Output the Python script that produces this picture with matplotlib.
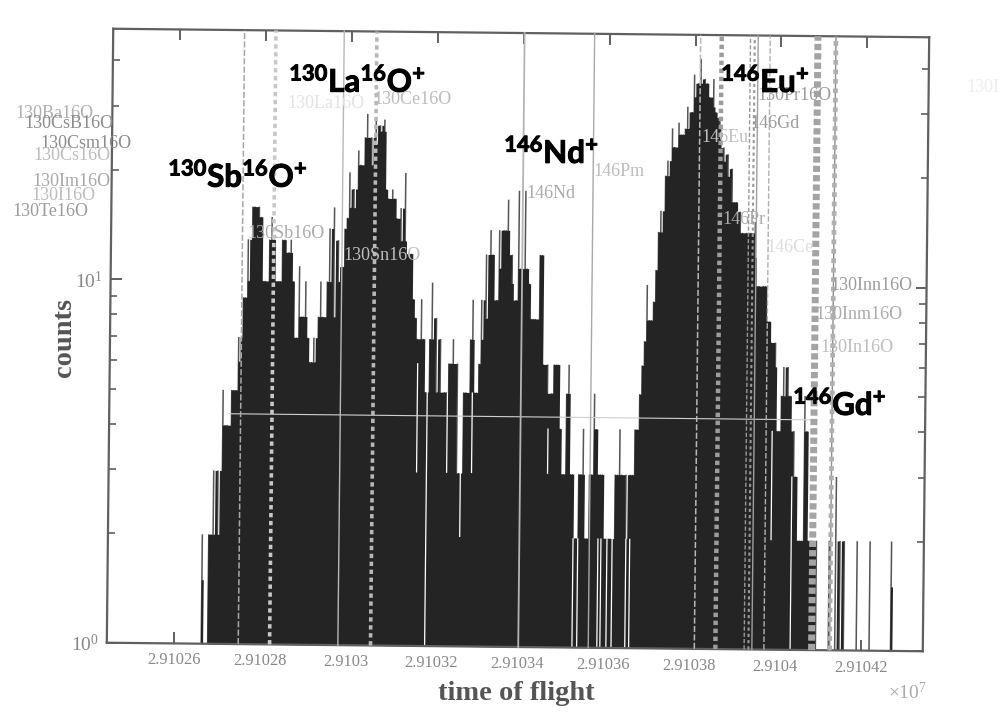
import numpy as np
import matplotlib
matplotlib.use("Agg")
import matplotlib.pyplot as plt
import matplotlib.patheffects as pe
from matplotlib.axes import Axes
from matplotlib.transforms import Affine2D

plt.rcParams["font.family"] = ["Liberation Serif"]
plt.rcParams["mathtext.fontset"] = "custom"
plt.rcParams["mathtext.rm"] = "Liberation Serif"
plt.rcParams["mathtext.bf"] = "Lato:bold"
plt.rcParams["mathtext.default"] = "rm"

# ---- data ----
first_bin = 2.9102662
bin_width = 5e-7
counts = [
    2,1,1,2,2,3,2,3,2,5,4,4,3,5,5,5,7,6,9,9,
    13,10,16,16,10,16,15,10,10,9,13,15,13,10,10,10,13,13,9,12,
    13,10,7,7,11,8,8,10,7,6,6,7,6,8,10,8,6,10,14,8,
    16,7,13,10,11,14,15,20,16,18,15,23,21,19,25,29,20,25,21,28,
    24,27,26,28,18,17,14,18,17,15,13,16,13,20,11,12,12,9,8,7,
    3,9,7,5,5,7,10,4,8,5,7,4,5,5,6,6,7,3,6,3,
    2,5,5,4,7,9,5,5,6,9,7,12,8,14,12,7,9,14,11,14,
    14,17,10,12,8,9,18,11,8,18,11,10,8,8,8,7,12,12,6,5,
    6,4,5,6,6,6,4,3,3,5,6,3,3,2,2,3,3,4,2,2,
    3,3,5,4,3,3,3,2,2,2,2,1,3,3,4,3,2,3,2,3,
    3,4,4,5,6,7,10,8,8,9,11,14,16,13,20,22,18,27,24,22,
    28,26,26,27,31,27,30,38,33,36,42,35,37,36,33,31,37,30,27,29,
    22,24,20,23,16,21,17,17,12,16,14,10,14,14,14,12,15,10,10,8,
    10,10,8,8,7,6,7,4,4,5,6,4,6,5,3,4,3,2,2,2,
    5,4,2,2,2,1,2,1,1,1,1,1,2,1,1,3,1,2,1,2,
    1,1,1,1,1,2,1,1,1,1,1,2,1,1,1,1,1,1,1,1,1,2,
]
dip_times = [2.9103161, 2.9103184, 2.9103231, 2.9103263, 2.9103289, 2.9103466,
             2.9103527, 2.9103538, 2.9103585, 2.9103592, 2.9103606, 2.9103618,
             2.9103650, 2.9103659, 2.9103988, 2.9104035]
dip_low = [3, 1, 3, 2, 3, 3, 1, 1, 1, 1, 1, 1, 1, 1, 2, 1]
dip_high = [6, 5, 5, 4, 5, 4, 2, 2, 2, 2, 2, 2, 2, 2, 4, 3]

isotope_times = [2.9102750, 2.9102823, 2.9102982, 2.9103058, 2.9103402, 2.9103565, 2.9103812,
                 2.9103861, 2.9103928, 2.9103938, 2.9103946, 2.9103974, 2.9104085, 2.9104127, 2.9104127]
isotope_styles = [(0, (4, 1.5)), (0, (1.2, 1)), "-", (0, (1.2, 1)), "-", "-", (0, (4, 1.5)),
                  (0, (1, 0.8)), (0, (3, 1.5)), (0, (1.5, 1.5)), "-", (0, (4, 1.5)),
                  (0, (0.9, 0.45)), "-", (0, (1, 1))]
isotope_widths = [1.1, 2.6, 1.0, 2.6, 1.3, 1.0, 1.1, 3.2, 1.0, 1.5, 1.0, 1.0, 5.0, 1.0, 3.4]
isotope_colors = ["#a8a8a8", "#c8c8c8", "#b8b8b8", "#b8b8b8", "#b4b4b4", "#a8a8a8", "#b8b8b8",
                  "#9c9c9c", "#999999", "#999999", "#a0a0a0", "#b0b0b0", "#a4a4a4", "#8c8c8c", "#b0b0b0"]
baseline_count = 4.3
baseline_range = (2.9102722, 2.9104079)

x_ticks = [2.91026, 2.91028, 2.91030, 2.91032, 2.91034, 2.91036, 2.91038, 2.91040, 2.91042]
x_tick_labels = ["2.91026", "2.91028", "2.9103", "2.91032", "2.91034", "2.91036", "2.91038", "2.9104", "2.91042"]
y_ticks = [1, 10]
y_tick_labels = [r"$10^{0}$", r"$10^{1}$"]
y_minor = [2, 3, 4, 5, 6, 7, 8, 9, 20, 30, 40]

faint_labels = [
    ("130Ba16O", 15, 113, "#b0b0b0"), ("130CsB16O", 24, 123, "#8c8c8c"), ("130Csm16O", 40, 144, "#8c8c8c"),
    ("130Cs16O", 33, 155, "#bdbdbd"), ("130Im16O", 32, 181, "#a8a8a8"), ("130I16O", 31, 196, "#bdbdbd"),
    ("130Te16O", 12, 212, "#9c9c9c"), ("130Sb16O", 247, 233, "#ababab"), ("130Sn16O", 343, 256, "#bdbdbd"),
    ("130La16O", 287, 103, "#e4e4e4"), ("130Ce16O", 373, 99, "#bdbdbd"), ("146Nd", 526, 193, "#ababab"),
    ("146Pm", 593, 172, "#bdbdbd"), ("146Eu", 701, 138, "#c0c0c0"), ("146Gd", 750, 123, "#9c9c9c"),
    ("130Pr16O", 757, 95, "#9c9c9c"), ("146Pr", 722, 219, "#ababab"), ("146Ce", 766, 248, "#dedede"),
    ("130Inn16O", 830, 285, "#9c9c9c"), ("130Inm16O", 815, 314, "#ababab"), ("130In16O", 820, 348, "#bdbdbd"),
    ("130I", 966, 88, "#eeeeee"),
]
big_labels = [
    (r"$\mathbf{^{130}Sb^{16}O^{+}}$", 168, 187), (r"$\mathbf{^{130}La^{16}O^{+}}$", 289, 92),
    (r"$\mathbf{^{146}Nd^{+}}$", 504, 163), (r"$\mathbf{^{146}Eu^{+}}$", 721, 92),
    (r"$\mathbf{^{146}Gd^{+}}$", 793, 415),
]


# ---- an axes with the slight tilt of the scanned page ----
class TiltedAxes(Axes):
    name = "tilted"

    def _set_lim_and_transforms(self):
        super()._set_lim_and_transforms()
        tilt = Affine2D().rotate_deg_around(518, 719 - 340, -0.6)
        self.transAxes = self.transAxes + tilt
        self.transData = self.transData + tilt
        self._xaxis_transform = self._xaxis_transform + tilt
        self._yaxis_transform = self._yaxis_transform + tilt


fig = plt.figure(figsize=(10, 7.19), dpi=100, facecolor="white")
ax = fig.add_axes([110 / 1000, (719 - 647) / 719, 816 / 1000, 614 / 719], axes_class=TiltedAxes)
ax.set_yscale("log")
ax.set_xlim(2.9102444, 2.9104344)
ax.set_ylim(1, 48.9)

c = np.array(counts, dtype=float)
t = first_bin + bin_width * np.arange(len(c))
edges = np.append(t, t[-1] + bin_width)
# solid body of the histogram, with the single-bin spikes rising in grey above it
body = np.array([np.median(c[max(i - 1, 0):i + 2]) for i in range(len(c))])
ax.bar(t, c - 1, width=bin_width * 0.72, bottom=1, align="edge", color="#555555", linewidth=0, zorder=1.8)
ax.fill_between(edges, 1, np.append(body, body[-1]), step="post", color="#242424", linewidth=0, zorder=2)
ax.vlines(dip_times, dip_low, dip_high, color="white", lw=0.9, zorder=2.5)
ax.hlines(baseline_count, *baseline_range, color="#d0d0d0", lw=0.8, zorder=3)
for xv, ls, lw, col in zip(isotope_times, isotope_styles, isotope_widths, isotope_colors):
    ax.axvline(xv, color=col, lw=lw, linestyle=ls, zorder=3)

ax.set_xticks(x_ticks)
ax.set_xticklabels(x_tick_labels)
ax.set_yticks(y_ticks)
ax.set_yticklabels(y_tick_labels)
ax.set_yticks(y_minor, minor=True)
ax.set_yticklabels([], minor=True)
ax.tick_params(which="major", direction="in", top=True, right=True, length=8, width=1.4,
               color="#606060", labelcolor="#888888", labelsize=11.8, pad=6.5)
ax.tick_params(which="minor", axis="y", direction="in", right=True, length=5, width=1.2, color="#606060")
ax.tick_params(axis="y", which="major", pad=6, labelsize=14)
for s in ax.spines.values():
    s.set_linewidth(1.6)
    s.set_color("#606060")

fig.text(65 / 1000, 1 - 337 / 719, "counts", rotation=90, ha="center", va="center",
         fontsize=20.5, fontweight="bold", color="#555555")
fig.text(516 / 1000, 1 - 693 / 719, "time of flight", ha="center", va="center",
         fontsize=20.5, fontweight="bold", color="#555555")
fig.text(888 / 1000, 1 - 693 / 719, r"$\times 10^{7}$", ha="left", va="center", fontsize=14, color="#aaaaaa")

for label, px, py, col in faint_labels:
    fig.text(px / 1000, 1 - py / 719, label, ha="left", va="center", fontsize=13, color=col, zorder=5)
for label, px, py in big_labels:
    fig.text(px / 1000, 1 - py / 719, label, ha="left", va="baseline", fontsize=22.5, color="black", zorder=6,
             path_effects=[pe.withStroke(linewidth=0.7, foreground="black")])

fig.savefig("out.png", dpi=100)
